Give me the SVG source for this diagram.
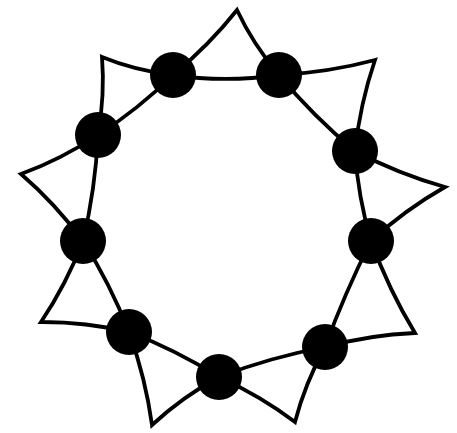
<svg xmlns="http://www.w3.org/2000/svg" width="457" height="433" viewBox="0 0 457 433">
<style>
.spike{fill:none;stroke:#000;stroke-width:3.8;stroke-linejoin:miter;stroke-miterlimit:10}
.dot{fill:#000}
</style>
<rect width="457" height="433" fill="#fff"/>
<g id="connectors">
<path class="spike" d="M173,75 Q209.7,44.6 237,10 Q253.1,44.4 279,75 Q224.7,82.9 173,75Z"/>
<path class="spike" d="M279,75 Q328.6,72.4 375,60 Q360.1,103.7 355,151 Q313,116 279,75Z"/>
<path class="spike" d="M355,151 Q398,173.8 445,187 Q404.6,210 371,241 Q358,196.5 355,151Z"/>
<path class="spike" d="M371,241 Q389.1,290.4 415,333 Q370,334.8 325,347 Q345,292.5 371,241Z"/>
<path class="spike" d="M325,347 Q304.8,384 295,422 Q261.1,396.3 219,377 Q270.2,357.3 325,347Z"/>
<path class="spike" d="M219,377 Q182.2,397 152,425 Q145.7,378.5 129,332 Q175.5,349.7 219,377Z"/>
<path class="spike" d="M129,332 Q85,321.8 41,322 Q66.2,284.6 83,241 Q110.4,284.1 129,332Z"/>
<path class="spike" d="M83,241 Q54.8,203.1 21,174 Q60.9,159.5 98,135 Q95.4,189 83,241Z"/>
<path class="spike" d="M98,135 Q105,94.6 102,57 Q134.9,70.5 173,75 Q138.4,109.1 98,135Z"/>
</g>
<g id="n1"><circle class="dot" cx="173" cy="75" r="23"/></g>
<g id="n2"><circle class="dot" cx="279" cy="75" r="23"/></g>
<g id="n3"><circle class="dot" cx="355" cy="151" r="23"/></g>
<g id="n4"><circle class="dot" cx="371" cy="241" r="23"/></g>
<g id="n5"><circle class="dot" cx="325" cy="347" r="23"/></g>
<g id="n6"><circle class="dot" cx="219" cy="377" r="23"/></g>
<g id="n7"><circle class="dot" cx="129" cy="332" r="23"/></g>
<g id="n8"><circle class="dot" cx="83" cy="241" r="23"/></g>
<g id="n9"><circle class="dot" cx="98" cy="135" r="23"/></g>
</svg>
